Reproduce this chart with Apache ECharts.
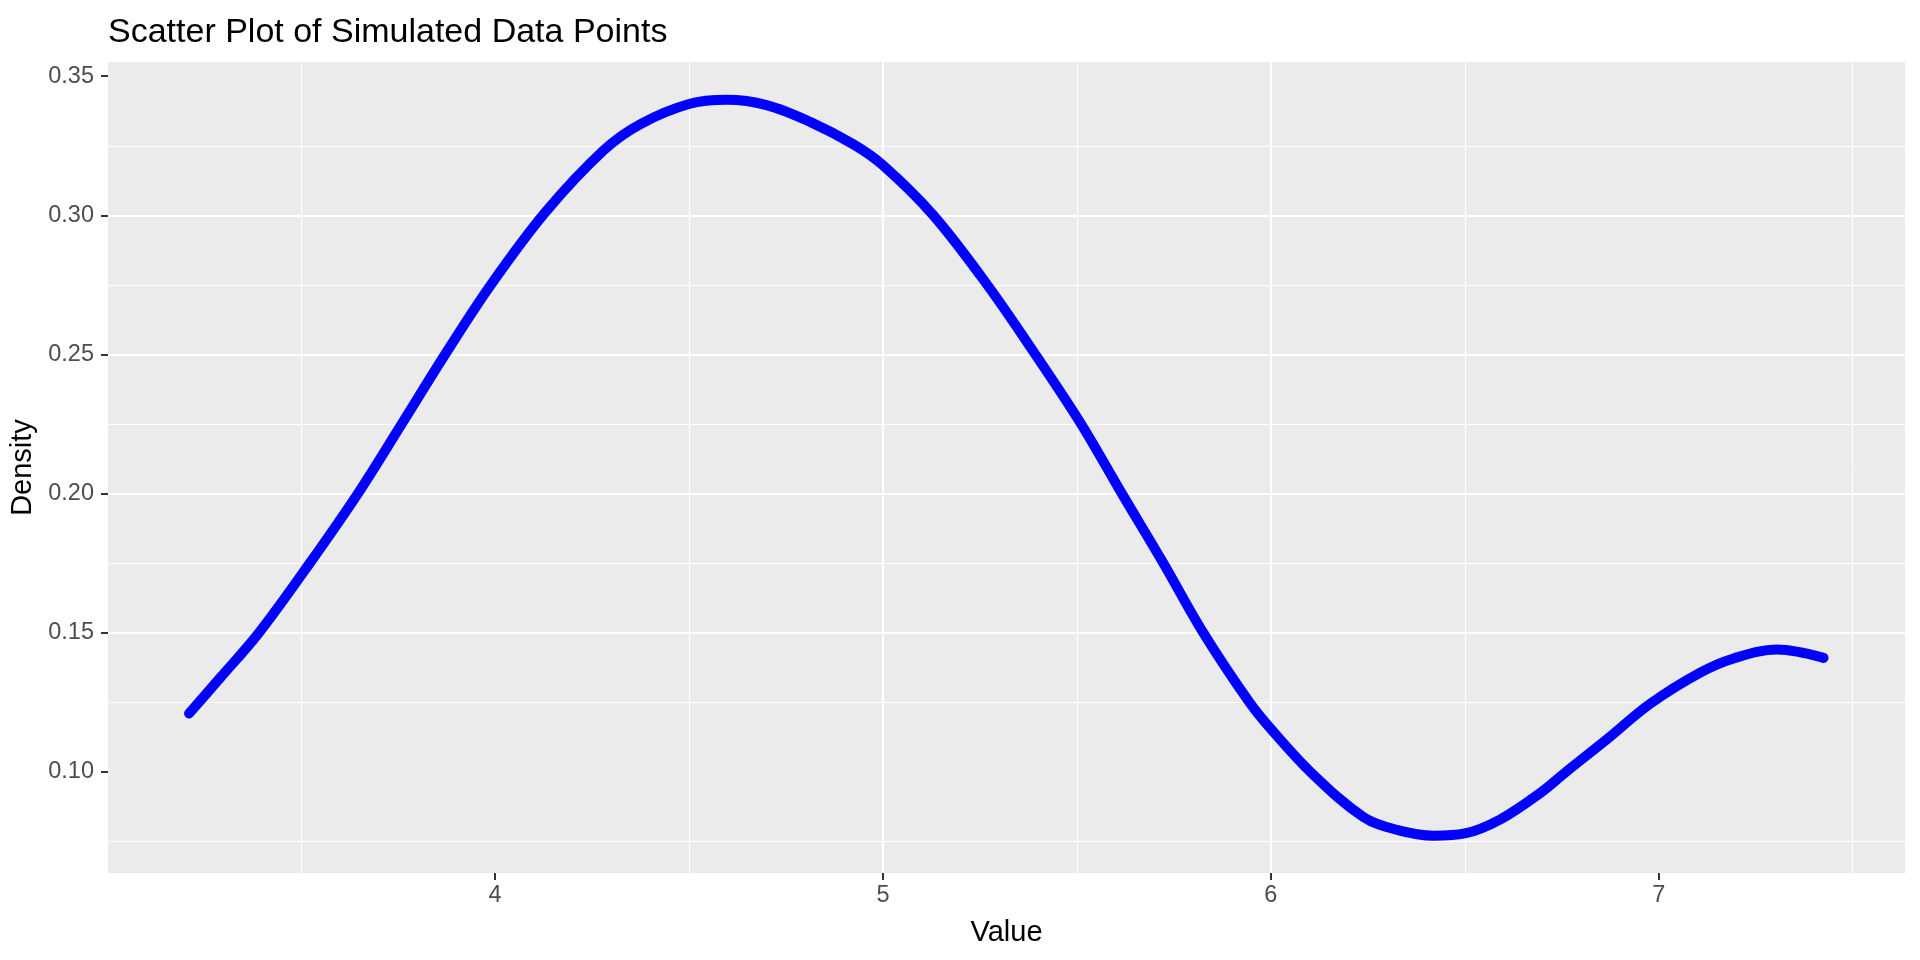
<!DOCTYPE html>
<html>
<head>
<meta charset="utf-8">
<script src="https://cdn.jsdelivr.net/npm/echarts@6/dist/echarts.min.js"></script>
<style>
html,body{margin:0;padding:0;background:#fff;}
#chart{width:1920px;height:960px;}
</style>
</head>
<body>
<div id="chart"></div>
<script>
// Values
const valueX = [3.211, 3.291, 3.391, 3.522, 3.646, 3.759, 3.871, 3.989, 4.129, 4.281, 4.375, 4.500, 4.597, 4.700, 4.812, 4.924, 5.000, 5.130, 5.268, 5.393, 5.511, 5.616, 5.723, 5.826, 5.945, 6.000, 6.106, 6.239, 6.325, 6.420, 6.500, 6.592, 6.695, 6.759, 6.867, 6.978, 7.107, 7.193, 7.305, 7.425];
const densityY = [0.1210, 0.1338, 0.1500, 0.1750, 0.2000, 0.2250, 0.2500, 0.2750, 0.3010, 0.3235, 0.3328, 0.3400, 0.3415, 0.3396, 0.3336, 0.3255, 0.3180, 0.3000, 0.2752, 0.2500, 0.2250, 0.2000, 0.1750, 0.1500, 0.1250, 0.1155, 0.0995, 0.0838, 0.0792, 0.0771, 0.0779, 0.0830, 0.0925, 0.0998, 0.1118, 0.1245, 0.1357, 0.1408, 0.1440, 0.1410];
const xTicks = [4, 5, 6, 7];
const yTicks = [0.10, 0.15, 0.20, 0.25, 0.30, 0.35];
const titleText = 'Scatter Plot of Simulated Data Points';
const xName = 'Value';
const yName = 'Density';

const FONT = 'Liberation Sans, Arial, sans-serif';
const points = valueX.map((x, i) => [x, densityY[i]]);

const chart = echarts.init(document.getElementById('chart'), null, {renderer: 'canvas'});
chart.setOption({
  animation: false,
  backgroundColor: '#FFFFFF',
  title: {
    text: titleText,
    left: 108,
    top: 16,
    padding: 0,
    textStyle: {fontFamily: FONT, fontSize: 34, fontWeight: 'normal', color: '#000000'}
  },
  grid: {
    left: 108, right: 15, top: 62, bottom: 87,
    show: true, backgroundColor: '#EBEBEB', borderWidth: 0
  },
  xAxis: {
    type: 'value',
    min: 3.002, max: 7.635,
    splitNumber: 5,
    name: xName,
    nameLocation: 'middle',
    nameGap: 45,
    nameTextStyle: {fontFamily: FONT, fontSize: 29, color: '#000000'},
    axisLine: {show: false},
    axisTick: {show: true, customValues: xTicks, length: 7, lineStyle: {color: '#333333', width: 2}},
    axisLabel: {customValues: xTicks, margin: 11, fontFamily: FONT, fontSize: 23.5, color: '#4D4D4D'},
    splitLine: {show: true, showMinLine: false, showMaxLine: false, lineStyle: {color: '#FFFFFF', width: 2}},
    minorTick: {show: false, splitNumber: 2},
    minorSplitLine: {show: true, lineStyle: {color: '#FFFFFF', width: 1}}
  },
  yAxis: {
    type: 'value',
    min: 0.0637, max: 0.3551,
    splitNumber: 5,
    name: yName,
    nameLocation: 'middle',
    nameGap: 58,
    nameTextStyle: {fontFamily: FONT, fontSize: 29, color: '#000000'},
    axisLine: {show: false},
    axisTick: {show: true, customValues: yTicks, length: 7, lineStyle: {color: '#333333', width: 2}},
    axisLabel: {customValues: yTicks, margin: 14, fontFamily: FONT, fontSize: 23.5, color: '#4D4D4D',
      formatter: v => Number(v).toFixed(2)},
    splitLine: {show: true, showMinLine: false, showMaxLine: false, lineStyle: {color: '#FFFFFF', width: 2}},
    minorTick: {show: false, splitNumber: 2},
    minorSplitLine: {show: true, lineStyle: {color: '#FFFFFF', width: 1}}
  },
  series: [{
    type: 'line',
    data: points,
    smooth: 0.35,
    showSymbol: false,
    symbol: 'none',
    lineStyle: {color: '#0000FF', width: 10, cap: 'round', join: 'round'}
  }]
});
</script>
</body>
</html>
